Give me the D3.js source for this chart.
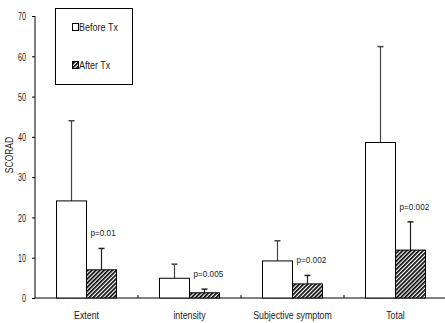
<!DOCTYPE html>
<html><head><meta charset="utf-8">
<script src="https://cdn.jsdelivr.net/npm/d3@7"></script>
<style>
body{margin:0;background:#fff;}
text{font-family:"Liberation Sans",Arial,sans-serif;fill:#222;}
</style></head>
<body>
<svg id="c" width="445" height="323"></svg>
<script>
const categories = ["Extent", "intensity", "Subjective symptom", "Total"];
const series = ["Before Tx", "After Tx"];
const beforeMean = [24.1, 4.9, 9.2, 38.6];
const beforeErr = [44.0, 8.4, 14.2, 62.4];
const afterMean = [7.0, 1.3, 3.5, 11.9];
const afterErr = [12.3, 2.2, 5.6, 18.9];
const pValues = ["p=0.01", "p=0.005", "p=0.002", "p=0.002"];
const yTicks = [0, 10, 20, 30, 40, 50, 60, 70];

(function () {
const svg = d3.select("#c");
const mL = 35, mR = 447, mT = 16, mB = 298;

function narrow(sel, sx) {
  sel.each(function () {
    const t = d3.select(this);
    const x = +t.attr("x") || 0, yy = +t.attr("y") || 0;
    const prev = t.attr("transform") || "";
    t.attr("x", 0).attr("y", 0).attr("transform", `${prev} translate(${x},${yy}) scale(${sx},1)`);
  });
}

const x0 = d3.scaleBand().domain(categories).range([mL, mR]).padding(0);
const x1 = d3.scaleBand().domain(series).range([0, x0.bandwidth()]).paddingInner(0).paddingOuter(0.717);
const y = d3.scaleLinear().domain([0, 70]).range([mB, mT]);

const defs = svg.append("defs");
const pat = defs.append("pattern").attr("id", "hatch").attr("patternUnits", "userSpaceOnUse")
  .attr("width", 2.9).attr("height", 2.9).attr("patternTransform", "rotate(45)");
pat.append("rect").attr("width", 2.9).attr("height", 2.9).attr("fill", "#fff");
pat.append("line").attr("x1", 0.8).attr("y1", 0).attr("x2", 0.8).attr("y2", 2.9)
  .attr("stroke", "#000").attr("stroke-width", 1.7);

const yAxis = d3.axisLeft(y).tickValues(yTicks).tickSize(3).tickPadding(6);
const ya = svg.append("g").attr("transform", `translate(${mL},0)`).call(yAxis);
ya.select(".domain").attr("stroke", "#000").attr("d", `M0,${mT}V${mB}`);
ya.selectAll(".tick line").attr("stroke", "#000");
ya.selectAll("text").style("font-size", "10.5px").attr("fill", "#333").attr("dy", "0.36em");
narrow(ya.selectAll("text"), 0.68);

svg.append("line").attr("x1", mL).attr("x2", 445).attr("y1", mB).attr("y2", mB).attr("stroke", "#000");
svg.selectAll(".xdiv").data(categories.slice(1)).enter().append("line")
  .attr("x1", d => x0(d)).attr("x2", d => x0(d)).attr("y1", mB).attr("y2", mB - 3).attr("stroke", "#000");
const xl = svg.selectAll(".xlab").data(categories).enter().append("text")
  .attr("x", d => x0(d) + x0.bandwidth() / 2).attr("y", 319).attr("text-anchor", "middle")
  .style("font-size", "10px").attr("fill", "#333").text(d => d);
narrow(xl, 0.88);

svg.append("text").attr("transform", `translate(13,${(mT + mB) / 2 - 2}) rotate(-90) scale(0.85,1)`)
  .attr("text-anchor", "middle").style("font-size", "10px").attr("fill", "#333").text("SCORAD");

const data = categories.map((c, i) => ({c, b: beforeMean[i], be: beforeErr[i], a: afterMean[i], ae: afterErr[i], p: pValues[i]}));

function errBar(cx, m, e, color) {
  svg.append("line").attr("x1", cx).attr("x2", cx).attr("y1", y(m)).attr("y2", y(e)).attr("stroke", color).attr("stroke-width", 1.2);
  svg.append("line").attr("x1", cx - 3).attr("x2", cx + 3).attr("y1", y(e)).attr("y2", y(e)).attr("stroke", color).attr("stroke-width", 1.5);
}
data.forEach(d => {
  const bw = x1.bandwidth();
  const xb = x0(d.c) + x1("Before Tx");
  const xa = x0(d.c) + x1("After Tx");
  errBar(xb + bw / 2, d.b, d.be, "#444");
  errBar(xa + bw / 2, d.a, d.ae, "#222");
  svg.append("rect").attr("x", xb).attr("y", y(d.b)).attr("width", bw).attr("height", y(0) - y(d.b))
    .attr("fill", "#fff").attr("stroke", "#000").attr("stroke-width", 1);
  svg.append("rect").attr("x", xa).attr("y", y(d.a)).attr("width", bw).attr("height", y(0) - y(d.a))
    .attr("fill", "url(#hatch)").attr("stroke", "#000").attr("stroke-width", 1);
  const pt = svg.append("text").attr("x", xa + 4).attr("y", y(d.ae) - 12).style("font-size", "9.5px").attr("fill", "#444").text(d.p);
  narrow(pt, 0.86);
});

svg.append("rect").attr("x", 55.5).attr("y", 8.5).attr("width", 77).attr("height", 76).attr("fill", "#fff").attr("stroke", "#000");
const leg = [{s: "Before Tx", y: 27, fill: "#fff"}, {s: "After Tx", y: 65, fill: "url(#hatch)"}];
leg.forEach(l => {
  svg.append("rect").attr("x", 72.5).attr("y", l.y - 3.5).attr("width", 6).attr("height", 7).attr("fill", l.fill).attr("stroke", "#000");
  const t = svg.append("text").attr("x", 79).attr("y", l.y + 4).style("font-size", "11px").attr("fill", "#222").text(l.s);
  narrow(t, 0.82);
});
})();
</script>
</body></html>
